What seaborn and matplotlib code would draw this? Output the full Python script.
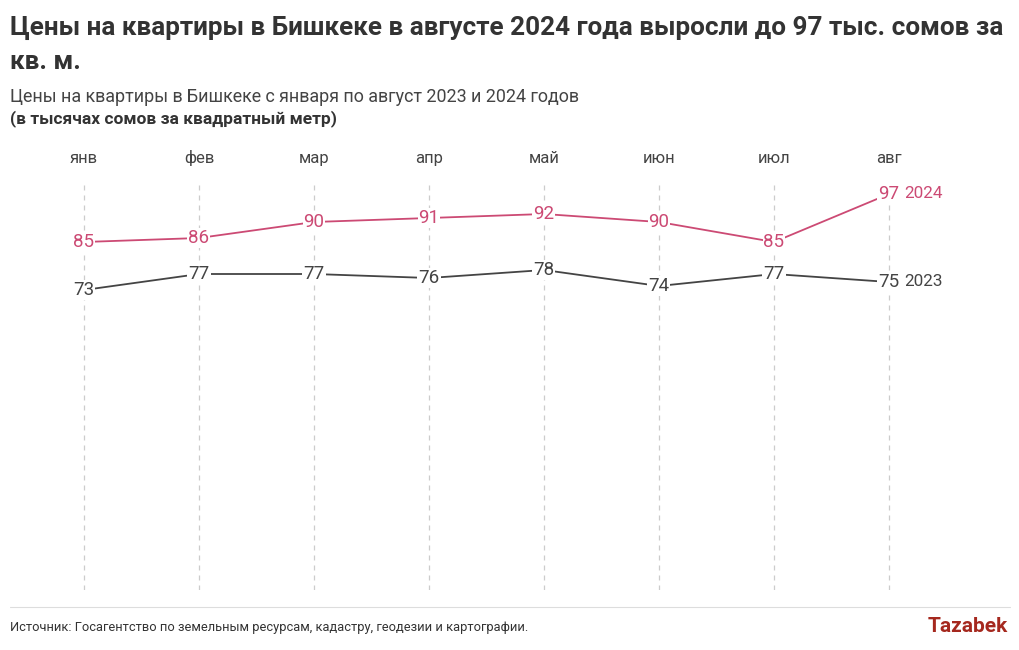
import matplotlib
matplotlib.use("Agg")
import matplotlib.pyplot as plt
import seaborn as sns
import pandas as pd

months = ["янв", "фев", "мар", "апр", "май", "июн", "июл", "авг"]
values_2024 = [85, 86, 90, 91, 92, 90, 85, 97]
values_2023 = [73, 77, 77, 76, 78, 74, 77, 75]
years = ["2024", "2023"]
colors = {"2024": "#cc4a74", "2023": "#444444"}

title = "Цены на квартиры в Бишкеке в августе 2024 года выросли до 97 тыс. сомов за\nкв. м."
subtitle = "Цены на квартиры в Бишкеке с января по август 2023 и 2024 годов"
subtitle2 = "(в тысячах сомов за квадратный метр)"
source = "Источник: Госагентство по земельным ресурсам, кадастру, геодезии и картографии."

sns.set_theme(style="white")
plt.rcParams["font.family"] = ["Roboto", "DejaVu Sans"]

df = pd.concat([
    pd.DataFrame({"x": range(len(months)), "month": months, "value": values_2024, "year": "2024"}),
    pd.DataFrame({"x": range(len(months)), "month": months, "value": values_2023, "year": "2023"}),
])

fig = plt.figure(figsize=(10.2, 6.5), dpi=100)
ax = fig.add_axes([10 / 1020, 60 / 650, 1000 / 1020, 410 / 650])

x0 = 84
step = 115
ax.set_xlim((10 - x0) / step, (1010 - x0) / step)
ax.set_ylim(-2, 100.5)

for i in range(len(months)):
    ax.axvline(i, color="#cccccc", lw=0.9, ls=(0, (4, 4)), zorder=0)
    ax.text(i, 1.035, months[i], transform=ax.get_xaxis_transform(), ha="center", va="bottom",
            fontsize=12, color="#444444")

sns.lineplot(data=df, x="x", y="value", hue="year", palette=colors, ax=ax, legend=False, lw=1.3)

for yr in years:
    sub = df[df["year"] == yr]
    for _, r in sub.iterrows():
        ax.text(r["x"], r["value"], str(r["value"]), ha="center", va="center", fontsize=13.5,
                color=colors[yr], zorder=5,
                bbox=dict(boxstyle="square,pad=0.05", fc="white", ec="none"))
    last = sub.iloc[-1]
    ax.text(last["x"] + 0.13, last["value"], yr, ha="left", va="center", fontsize=12.3,
            color=colors[yr], zorder=5)

ax.set_axis_off()

fig.text(10 / 1020, 1 - 45 / 650, title, fontsize=18.8, fontweight="bold", color="#333333",
         va="center", ha="left", linespacing=1.57)
fig.text(10 / 1020, 1 - 97 / 650, subtitle, fontsize=12.9, color="#444444", va="center", ha="left")
fig.text(10 / 1020, 1 - 119 / 650, subtitle2, fontsize=12.5, fontweight="bold", color="#333333",
         va="center", ha="left")

fig.add_artist(plt.Line2D([10 / 1020, 1010 / 1020], [1 - 607 / 650, 1 - 607 / 650], color="#dddddd", lw=0.8))
fig.text(10 / 1020, 1 - 628 / 650, source, fontsize=9.3, color="#333333", va="center", ha="left")
fig.text(1008 / 1020, 1 - 627 / 650, "Tazabek", fontsize=15, fontweight="bold", color="#a5281e",
         va="center", ha="right")

fig.savefig("out.png", dpi=100, facecolor="white")
